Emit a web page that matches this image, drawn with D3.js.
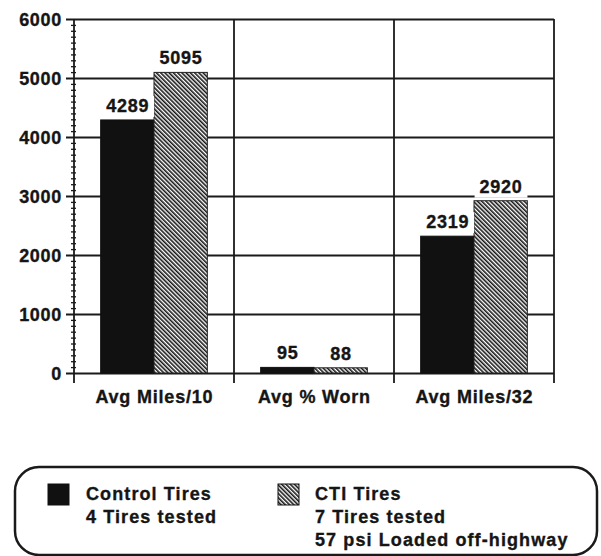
<!DOCTYPE html>
<html>
<head>
<meta charset="utf-8">
<script src="https://cdn.jsdelivr.net/npm/d3@7"></script>
<style>
  html, body { margin: 0; padding: 0; background: #fff; }
  svg { display: block; }
  text { font-family: "Liberation Sans", Arial, Helvetica, sans-serif; font-weight: bold; fill: #151515; stroke: #151515; stroke-width: 0.35px; }
</style>
</head>
<body>
<svg id="chart" width="601" height="556"></svg>
<script>
const categories = ["Avg Miles/10", "Avg % Worn", "Avg Miles/32"];
const seriesNames = ["Control Tires", "CTI Tires"];
const controlValues = [4289, 95, 2319];
const ctiValues = [5095, 88, 2920];
const yTicks = [0, 1000, 2000, 3000, 4000, 5000, 6000];
const legendNotes = [["4 Tires tested"], ["7 Tires tested", "57 psi Loaded off-highway"]];

(function() {
const svg = d3.select("#chart");
const ink = "#1a1a1a";

const defs = svg.append("defs");
const pat = defs.append("pattern")
  .attr("id", "hatch")
  .attr("patternUnits", "userSpaceOnUse")
  .attr("width", 3).attr("height", 3)
  .attr("patternTransform", "rotate(-45)");
pat.append("rect").attr("width", 3).attr("height", 3).attr("fill", "#fff");
pat.append("rect").attr("x", 0).attr("width", 1.6).attr("height", 3).attr("fill", "#151515");

const pLeft = 74, pRight = 554, pTop = 19, pBottom = 373;
const x0 = d3.scaleBand().domain(categories).range([pLeft, pRight]).padding(0);
const x1 = d3.scaleBand().domain(seriesNames).range([0, x0.bandwidth()]).paddingInner(0).paddingOuter(0.5);
const y = d3.scaleLinear().domain([0, 6000]).range([pBottom, pTop]);

// major gridlines + tick labels
const gAxis = svg.append("g").attr("transform", `translate(66,0)`)
  .call(d3.axisLeft(y).tickValues(yTicks).tickSize(-(pRight - 66)).tickPadding(4).tickFormat(d3.format("d")));
gAxis.select(".domain").remove();
gAxis.attr("font-family", null).attr("font-size", null);
gAxis.selectAll(".tick line").attr("stroke", ink).attr("stroke-width", 1.8);
gAxis.selectAll(".tick text")
  .attr("x", -4).attr("dy", null).attr("y", 6.5)
  .style("font-size", "18px").style("letter-spacing", "0.7px")
  .attr("fill", "#151515");

// minor ticks every 100
const minor = d3.range(0, 6001, 100).filter(v => v % 1000 !== 0);
const gMinor = svg.append("g").attr("transform", `translate(76,0)`)
  .call(d3.axisLeft(y).tickValues(minor).tickSize(5).tickFormat(""));
gMinor.select(".domain").remove();
gMinor.selectAll(".tick line").attr("stroke", ink).attr("stroke-width", 1.3);

// vertical lines: axis, dividers, right edge
const vx = [pLeft].concat(categories.slice(1).map(c => x0(c))).concat([pRight]);
svg.append("g").selectAll("line").data(vx).join("line")
  .attr("x1", d => d).attr("x2", d => d)
  .attr("y1", pTop).attr("y2", pBottom + 10)
  .attr("stroke", ink).attr("stroke-width", 1.8);

// bars
const rows = categories.map((c, i) => ({ cat: c, vals: [controlValues[i], ctiValues[i]] }));
const groups = svg.append("g").selectAll("g").data(rows).join("g")
  .attr("transform", d => `translate(${x0(d.cat)},0)`);
groups.selectAll("rect").data(d => d.vals.map((v, j) => ({ v, s: seriesNames[j], j }))).join("rect")
  .attr("x", d => x1(d.s))
  .attr("y", d => y(d.v))
  .attr("width", x1.bandwidth())
  .attr("height", d => y(0) - y(d.v))
  .attr("fill", d => d.j === 0 ? "#111" : "url(#hatch)")
  .attr("stroke", d => d.j === 0 ? "#111" : "#222")
  .attr("stroke-width", 1);

// value labels with white backing
groups.each(function(d) {
  const g = d3.select(this);
  d.vals.forEach((v, j) => {
    const cx = x1(seriesNames[j]) + x1.bandwidth() / 2;
    const lg = g.append("g");
    const bg = lg.append("rect").attr("fill", "#fff");
    const t = lg.append("text")
      .attr("x", cx + 0.35).attr("y", y(v) - 8)
      .attr("text-anchor", "middle")
      .style("font-size", "18px").style("letter-spacing", "0.7px")
      .text(v);
    const bb = t.node().getBBox();
    bg.attr("x", bb.x - 5).attr("y", bb.y).attr("width", bb.width + 10).attr("height", bb.height + 1);
  });
});

// category labels
svg.append("g").selectAll("text").data(categories).join("text")
  .attr("x", d => x0(d) + x0.bandwidth() / 2 + 0.4)
  .attr("y", 403)
  .attr("text-anchor", "middle")
  .style("font-size", "18px").style("letter-spacing", "0.8px")
  .text(d => d);

// legend box
svg.append("rect")
  .attr("x", 15).attr("y", 467).attr("width", 582).attr("height", 88)
  .attr("rx", 24).attr("ry", 24)
  .attr("fill", "none").attr("stroke", ink).attr("stroke-width", 2.5);

const legendX = [48, 278];
const legendTextX = [86, 315];
seriesNames.forEach((s, i) => {
  svg.append("rect")
    .attr("x", legendX[i]).attr("y", 484).attr("width", 21).attr("height", 21)
    .attr("fill", i === 0 ? "#111" : "url(#hatch)")
    .attr("stroke", "#111").attr("stroke-width", 1);
  const lines = [s].concat(legendNotes[i]);
  svg.append("g").selectAll("text").data(lines).join("text")
    .attr("x", legendTextX[i])
    .attr("y", (d, k) => 500 + k * 23)
    .style("font-size", "18px").style("letter-spacing", "1.1px")
    .text(d => d);
});
})();
</script>
</body>
</html>
